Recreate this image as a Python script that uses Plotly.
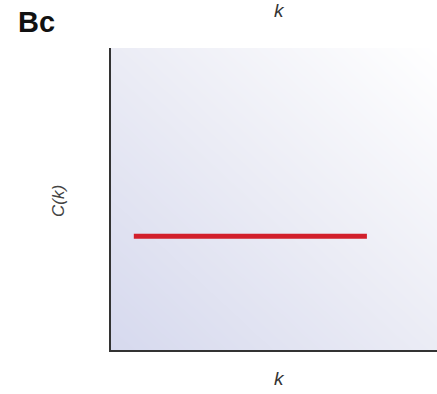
import numpy as np
import plotly.graph_objects as go

# Data
k_values = [0.07, 0.785]
ck_values = [0.377, 0.377]
x_label = "k"
y_label = "C(k)"
panel_label = "Bc"

W, H = 437, 394
L, T, B = 111, 48, 394 - 350
PW, PH = W - L, H - T - B


def px(xp, yp):
    """page pixel -> paper coords"""
    return (xp - L) / PW, (H - B - yp) / PH


# background gradient grid (styling only)
gx = np.linspace(0, 1, 40)
gy = np.linspace(0, 1, 40)
GX, GY = np.meshgrid(gx, gy)
GZ = (GX + GY) / 2

fig = go.Figure()
fig.add_trace(go.Heatmap(x=gx, y=gy, z=GZ, zsmooth="best", showscale=False,
                         colorscale=[[0, "#d6d9ee"], [0.5, "#ebecf5"], [1, "#ffffff"]],
                         hoverinfo="skip"))
fig.add_trace(go.Scatter(x=k_values, y=ck_values, mode="lines",
                         line=dict(color="#d21f2b", width=5), hoverinfo="skip"))

font = "Liberation Sans, Arial"
anns = []
x, y = px(16, 22)
anns.append(dict(text="<b>" + panel_label + "</b>", x=x, y=y, xanchor="left", yanchor="middle",
                 font=dict(family=font, size=29, color="#111")))
x, y = px(279, 378)
anns.append(dict(text="<i>" + x_label + "</i>", x=x, y=y, xanchor="center", yanchor="middle",
                 font=dict(family=font, size=19, color="#333")))
x, y = px(279, 11)
anns.append(dict(text="<i>" + x_label + "</i>", x=x, y=y, xanchor="center", yanchor="middle",
                 font=dict(family=font, size=19, color="#333")))
x, y = px(58, 201)
anns.append(dict(text="<i>" + y_label + "</i>", x=x, y=y, xanchor="center", yanchor="middle",
                 textangle=-90, font=dict(family=font, size=17, color="#444")))
for a in anns:
    a.update(xref="paper", yref="paper", showarrow=False)

fig.update_layout(
    width=W, height=H,
    margin=dict(l=L, r=0, t=T, b=B, pad=0),
    paper_bgcolor="white", plot_bgcolor="white",
    showlegend=False,
    xaxis=dict(range=[0, 1], showgrid=False, zeroline=False, showticklabels=False,
               ticks="", showline=True, linecolor="#333333", linewidth=2),
    yaxis=dict(range=[0, 1], showgrid=False, zeroline=False, showticklabels=False,
               ticks="", showline=True, linecolor="#333333", linewidth=2),
    annotations=anns,
)

fig.write_html("out.html", config={"displayModeBar": False},
               post_script="document.body.style.margin='0';")
